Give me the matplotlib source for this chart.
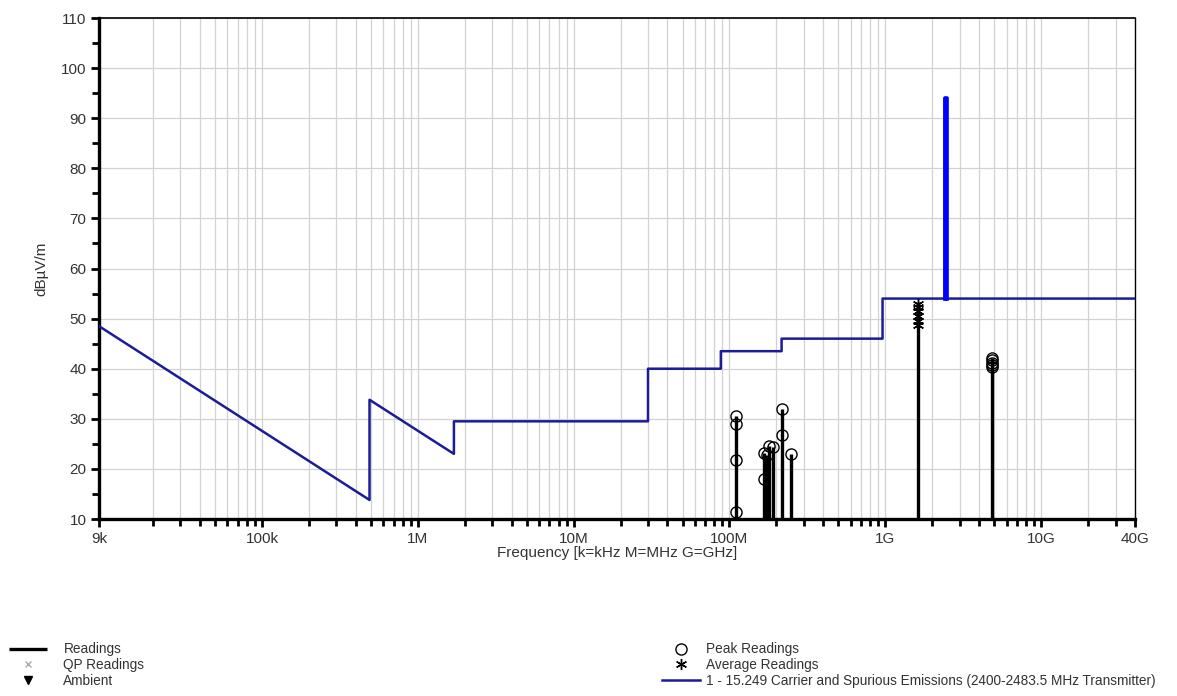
"""
 - 방사 방출 측정 결과 그래프 (9 kHz ~ 40 GHz)
"""

import matplotlib.pyplot as plt
from matplotlib.ticker import FixedLocator, LogLocator, NullFormatter, MultipleLocator

plt.rcParams['font.family'] = ['Liberation Sans', 'DejaVu Sans']
plt.rcParams['axes.unicode_minus'] = False


# 1. 리밋 라인 (MHz, dBuV/m)
limit_freq = [0.009, 0.49, 0.49, 1.705, 1.705, 30, 30, 88, 88, 216, 216, 960,
              960, 2400, 2400, 2483.5, 2483.5, 40000]
limit_level = [48.5, 13.8, 33.8, 23.0, 29.5, 29.5, 40.0, 40.0, 43.5, 43.5, 46.0, 46.0,
               54.0, 54.0, 94.0, 94.0, 54.0, 54.0]

# 2. 피크 측정값
peak_freq = [110.5, 110.5, 110.5, 110.5, 167, 167, 175, 180, 191, 218, 218, 249,
             4824, 4824, 4824, 4824, 4824]
peak_level = [30.5, 29.0, 21.8, 11.3, 23.2, 18.0, 22.8, 24.5, 24.3, 32.0, 26.8, 23.0,
              42.2, 41.8, 41.2, 40.7, 40.3]

# 3. 평균 측정값
avg_freq = [1625, 1625, 1625, 1625, 1625, 1625]
avg_level = [53.0, 52.3, 51.5, 50.6, 49.6, 48.8]

x_ticks = [0.009, 0.1, 1, 10, 100, 1000, 10000, 40000]
x_labels = ['9k', '100k', '1M', '10M', '100M', '1G', '10G', '40G']

y_min, y_max = 10, 110


fig = plt.figure(figsize=(11.77, 6.96), dpi=100)
ax = fig.add_axes([0.0841, 0.2543, 0.8802, 0.7198])

# 측정 주파수별 최대값까지 세로선
reading_max = {}
for f, v in list(zip(peak_freq, peak_level)) + list(zip(avg_freq, avg_level)):
    reading_max[f] = max(v, reading_max.get(f, y_min))
h_read = ax.vlines(list(reading_max.keys()), y_min, list(reading_max.values()),
                   colors='black', linewidth=2.4, zorder=3, label='Readings')

# 리밋 라인 + 2400-2483.5 MHz 대역
h_limit, = ax.plot(limit_freq, limit_level, color='#1c1c96', linewidth=1.8, zorder=4,
                   label='1 - 15.249 Carrier and Spurious Emissions (2400-2483.5 MHz Transmitter)')
ax.plot(limit_freq[13:17], limit_level[13:17], color='#0000ff', linewidth=2.6, zorder=4)

h_peak, = ax.plot(peak_freq, peak_level, 'o', markerfacecolor='none', markeredgecolor='black',
                  markersize=8, markeredgewidth=1.0, zorder=5, label='Peak Readings')
h_avg, = ax.plot(avg_freq, avg_level, linestyle='none', marker=(6, 2, 0), color='black',
                 markersize=8, markeredgewidth=1.0, zorder=5, label='Average Readings')

# 범례용 (데이터 없음)
h_qp, = ax.plot([], [], 'x', color='#aaaaaa', markersize=5, label='QP Readings')
h_amb, = ax.plot([], [], 'v', color='black', markersize=6, label='Ambient')

# 축 설정
ax.set_xscale('log')
ax.set_xlim(0.009, 40000)
ax.set_ylim(y_min, y_max)
ax.xaxis.set_major_locator(FixedLocator(x_ticks))
ax.set_xticklabels(x_labels)
ax.xaxis.set_minor_locator(LogLocator(base=10, subs=range(2, 10), numticks=30))
ax.xaxis.set_minor_formatter(NullFormatter())
ax.yaxis.set_major_locator(MultipleLocator(10))
ax.yaxis.set_minor_locator(MultipleLocator(5))

ax.grid(True, which='major', axis='both', color='#d2d2d2', linewidth=0.9, zorder=0)
ax.grid(True, which='minor', axis='x', color='#d2d2d2', linewidth=0.9, zorder=0)
ax.set_axisbelow(True)

for side in ['left', 'bottom']:
    ax.spines[side].set_linewidth(2.4)
ax.spines['top'].set_linewidth(1.2)
ax.spines['right'].set_linewidth(1.0)

ax.tick_params(which='major', length=6, width=2, labelsize=11, colors='#333333', pad=3)
ax.tick_params(which='minor', length=5, width=2, colors='#333333')
ax.tick_params(axis='x', which='both', color='black')
ax.tick_params(axis='y', which='both', color='black')

ax.set_xlabel('Frequency [k=kHz M=MHz G=GHz]', fontsize=11, color='#333333', labelpad=0)
ax.set_ylabel('dBµV/m', fontsize=11, color='#333333', labelpad=9)

# 범례 (두 열)
leg1 = fig.legend(handles=[h_read, h_qp, h_amb], loc='upper left',
                  bbox_to_anchor=(0.003, 0.085), frameon=False, fontsize=9.8,
                  handlelength=2.8, handletextpad=1.2, labelspacing=0.12,
                  borderaxespad=0, labelcolor='#333333')
leg2 = fig.legend(handles=[h_peak, h_avg, h_limit], loc='upper left',
                  bbox_to_anchor=(0.558, 0.085), frameon=False, fontsize=9.8,
                  handlelength=2.8, handletextpad=0.4, labelspacing=0.12,
                  borderaxespad=0, labelcolor='#333333')

fig.savefig('out.png', dpi=100)
